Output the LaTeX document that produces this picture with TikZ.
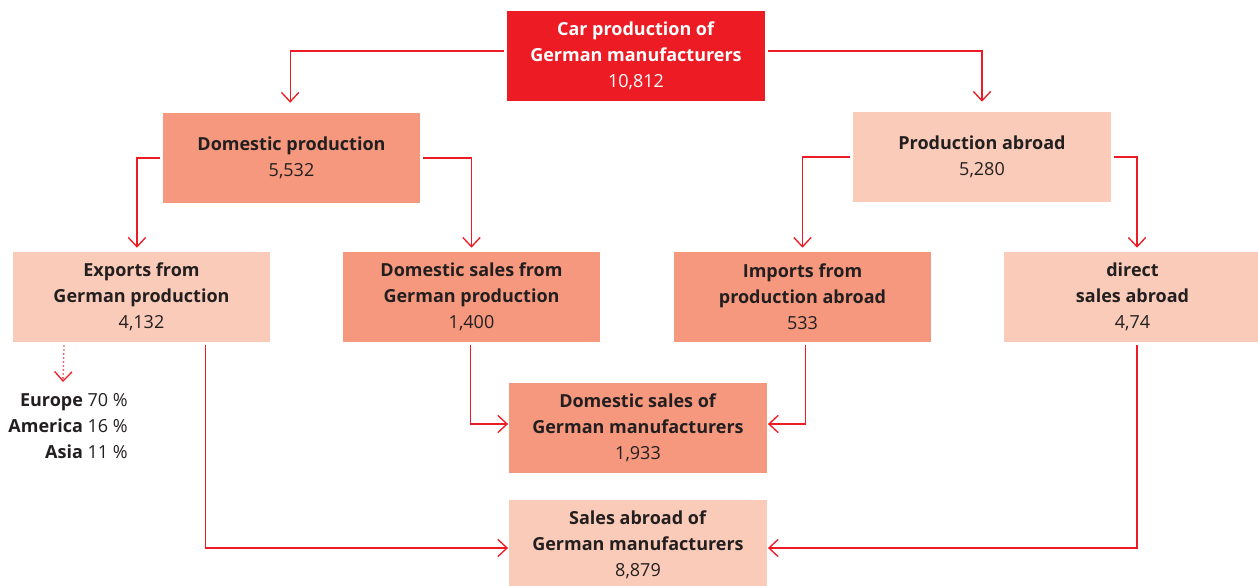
\documentclass[tikz,border=0pt]{standalone}
\usepackage{fontspec}
\setmainfont{Open Sans}
\usetikzlibrary{arrows.meta}
\definecolor{carred}{RGB}{237,28,36}
\definecolor{salmon}{RGB}{245,152,126}
\definecolor{peach}{RGB}{250,203,184}
\definecolor{ink}{RGB}{35,31,32}

\begin{document}
\begin{tikzpicture}[x=0.75pt,y=-0.75pt,
    box/.style={minimum width=193pt, minimum height=67.5pt, inner sep=0pt,
      align=center, text=ink, font=\fontsize{13.5}{19.5}\selectfont},
    dark/.style={box, fill=salmon},
    light/.style={box, fill=peach},
    flow/.style={draw=carred, line width=1pt, shorten <=2.25pt,
      -{Straight Barb[length=7pt,width=13pt,line width=1pt]}}]
  % Fixed canvas of the figure
  \useasboundingbox (0,0) rectangle (1258,586);

  % Top level
  \node[box, fill=carred, text=white] (car) at (636,56)
    {\textbf{Car production of}\\\textbf{German manufacturers}\\10,812};

  % Second level
  \node[dark] (dom) at (291.5,158) {\textbf{Domestic production}\\5,532};
  \node[light] (abr) at (982,157) {\textbf{Production abroad}\\5,280};

  % Third level
  \node[light] (exp) at (141.5,297) {\textbf{Exports from}\\\textbf{German production}\\4,132};
  \node[dark] (dsf) at (471.5,297) {\textbf{Domestic sales from}\\\textbf{German production}\\1,400};
  \node[dark] (imp) at (802.5,297) {\textbf{Imports from}\\\textbf{production abroad}\\533};
  \node[light] (dir) at (1132.5,297) {\textbf{direct}\\\textbf{sales abroad}\\4,74};

  % Sales totals
  \node[dark] (dso) at (638,428) {\textbf{Domestic sales of}\\\textbf{German manufacturers}\\1,933};
  \node[light] (sab) at (638,545) {\textbf{Sales abroad of}\\\textbf{German manufacturers}\\8,879};

  % Export split
  \node[anchor=north east, align=right, inner sep=0pt, text=ink,
    font=\fontsize{13.5}{19.5}\selectfont] (reg) at (128,393)
    {\textbf{Europe} 70 \%\\\textbf{America} 16 \%\\\textbf{Asia} 11 \%};

  % Connectors from the top
  \draw[flow, shorten >=7.5pt] (car.west) ++(0,-5) -| ([xshift=-1pt]dom.north);
  \draw[flow, shorten >=7.5pt] (car.east) ++(0,-5) -| (abr.north);

  % Connectors to the third level
  \draw[flow, shorten >=3pt] (dom.west) -| ([xshift=-3.4pt]exp.north);
  \draw[flow, shorten >=3pt] (dom.east) -| (dsf.north);
  \draw[flow, shorten >=3pt] (abr.west) -| (imp.north);
  \draw[flow, shorten >=3pt] (abr.east) -| ([xshift=3.4pt]dir.north);

  % Connectors to the totals
  \draw[flow, shorten >=0.75pt] ([xshift=-1pt]dsf.south) |- ([yshift=3pt]dso.west);
  \draw[flow, shorten >=0.75pt] ([xshift=2pt]imp.south) |- ([yshift=3pt]dso.east);
  \draw[flow, shorten >=0.75pt] ([xshift=48pt]exp.south) |- ([yshift=-2.25pt]sab.west);
  \draw[flow, shorten >=0.75pt] ([xshift=3.4pt]dir.south) |- ([yshift=-2.25pt]sab.east);

  % Dotted pointer to the export split
  \coordinate (regtop) at (63,382);
  \draw[flow, dotted] ([xshift=-58pt]exp.south) -- (regtop);
\end{tikzpicture}
\end{document}
